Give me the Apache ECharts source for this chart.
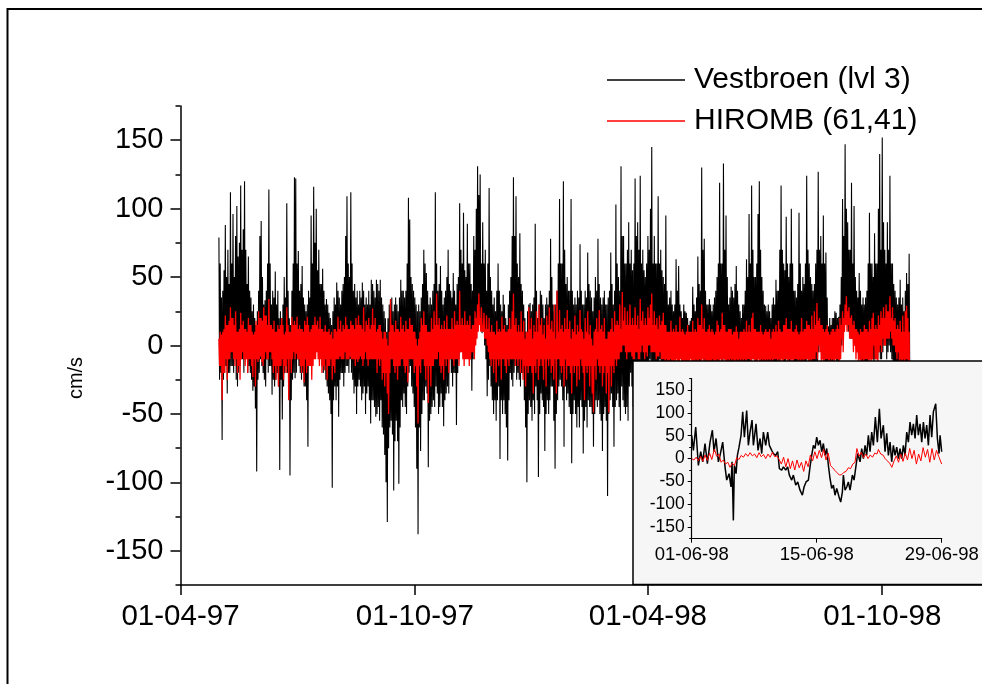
<!DOCTYPE html>
<html>
<head>
<meta charset="utf-8">
<title>Vestbroen vs HIROMB</title>
<script src="https://cdn.jsdelivr.net/npm/echarts@6/dist/echarts.min.js"></script>
<style>
  html, body { margin: 0; padding: 0; background: #fff; }
  #chart { width: 982px; height: 684px; }
</style>
</head>
<body>
<div id="chart"></div>
<script>
// daily max / min of each main series (cm/s), one row = 10 days, first day = 30 days after 01-04-97
var firstDay = 30;

var vestHigh = [
  79,60,35,40,55,88,50,70,45,112,
  60,96,50,80,102,65,75,117,70,85,
  120,70,45,65,40,35,25,30,20,15,
  25,40,80,91,50,30,33,40,60,114,
  60,30,40,35,54,30,40,20,25,20,
  30,50,35,104,40,20,15,40,60,123,
  122,60,69,40,45,58,35,30,25,30,
  40,35,95,60,116,75,100,55,70,45,
  45,56,40,30,34,30,24,20,15,25,
  35,30,46,40,35,30,40,45,50,80,
  109,60,50,112,60,40,45,35,40,30,
  40,35,46,40,30,35,30,40,30,48,
  45,40,35,48,45,40,48,35,30,25,
  20,10,20,30,33,35,25,30,35,30,
  25,35,48,40,40,35,40,60,108,92,
  50,45,40,35,30,25,30,25,35,45,
  70,60,53,40,30,35,30,40,45,112,
  60,40,45,58,40,30,35,40,50,70,
  45,40,35,53,40,30,45,50,104,70,
  60,97,55,50,89,60,60,45,40,80,
  70,100,131,110,125,60,90,60,70,40,
  60,115,50,40,30,35,25,40,60,40,
  30,25,37,30,20,15,30,40,50,80,
  123,80,109,60,50,82,45,40,30,20,
  10,25,30,31,25,30,35,89,40,20,
  30,40,37,30,20,30,35,30,40,78,
  50,30,25,30,40,60,107,60,60,120,
  70,45,50,40,40,107,40,30,35,30,
  40,35,74,40,30,30,40,35,68,45,
  40,35,25,35,50,40,78,45,35,30,
  35,40,30,30,35,40,68,45,30,40,
  103,60,50,40,131,80,80,60,60,70,
  90,60,70,55,60,122,80,90,70,124,
  60,70,55,50,60,80,70,100,145,60,
  80,60,60,109,60,70,55,50,45,95,
  40,30,35,40,30,25,30,63,40,58,
  30,25,20,30,25,24,20,15,18,20,
  43,30,25,35,65,45,40,130,70,78,
  40,30,30,34,30,25,30,35,40,50,
  60,119,60,60,133,70,95,50,30,35,
  43,40,35,45,58,40,30,25,20,30,
  30,40,63,50,96,60,117,70,50,50,
  60,96,120,70,50,40,30,29,25,30,
  25,20,30,35,30,48,40,40,70,117,
  70,60,55,94,60,50,60,100,60,40,
  40,35,45,97,60,40,50,45,60,124,
  70,60,50,45,40,45,60,70,127,70,
  80,60,95,60,68,35,14,20,15,20,
  20,25,24,20,21,30,50,107,80,147,
  100,90,70,70,119,60,102,50,40,35,
  53,40,30,35,30,35,40,60,97,60,
  60,50,82,60,60,100,140,70,152,90,
  70,60,90,70,124,60,60,45,40,35,
  30,35,48,30,35,25,40,53,45,67
];

var vestLow = [
  -25,-20,-69,-25,-20,-15,-35,-20,-20,-15,
  -15,-20,-5,-25,-30,-20,-15,-10,-10,-20,
  -10,-5,-20,-15,-20,-25,-33,-30,-46,-92,
  -25,-20,-10,-15,-20,-25,-30,-10,-20,-15,
  -15,-36,-25,-30,-25,-20,-30,-91,-25,-54,
  -30,-20,-15,-20,-15,-95,-40,-25,-20,-24,
  -20,-10,-15,-20,-25,-20,-30,-30,-40,-74,
  -10,-10,0,5,5,5,0,0,-5,-5,
  -15,-20,-15,-25,-30,-35,-40,-50,-104,-40,
  -30,-40,-30,-52,-25,-20,-20,-30,-20,-15,
  -15,-20,-10,-20,-25,-35,-30,-50,-30,-25,
  -30,-40,-35,-30,-50,-35,-30,-40,-57,-40,
  -40,-45,-52,-50,-45,-55,-40,-60,-65,-80,
  -100,-129,-75,-60,-55,-65,-106,-70,-55,-70,
  -101,-60,-40,-45,-35,-45,-50,-30,-20,-15,
  -30,-35,-45,-60,-90,-138,-60,-77,-50,-40,
  -40,-30,-35,-89,-55,-50,-45,-40,-45,-30,
  -35,-50,-45,-35,-45,-59,-40,-35,-30,-35,
  -10,-20,-30,-20,-20,-58,-20,-10,-5,0,
  0,5,0,-6,-5,0,-10,-33,-10,0,
  10,15,20,20,15,9,10,0,-10,-37,
  -25,-15,-30,-40,-50,-40,-55,-40,-30,-83,
  -40,-50,-40,-50,-60,-84,-40,-20,-25,-30,
  -20,-15,-25,-20,-25,-30,-20,-20,-40,-60,
  -100,-50,-40,-45,-55,-40,-50,-30,-40,-96,
  -50,-35,-40,-45,-77,-50,-40,-50,-40,-30,
  -30,-55,-90,-50,-40,-30,-25,-30,-40,-74,
  -30,-40,-35,-45,-50,-86,-50,-40,-50,-60,
  -45,-60,-40,-45,-79,-55,-45,-60,-40,-45,
  -45,-50,-74,-50,-40,-45,-40,-50,-55,-77,
  -50,-45,-55,-110,-50,-40,-35,-45,-74,-45,
  -40,-35,-45,-55,-30,-40,-45,-50,-45,-55,
  -30,-20,-30,-45,-30,-20,-20,-30,-25,-20,
  -30,-20,-20,-30,-30,-20,-10,-15,-20,-20,
  -25,-20,-30,-20,-10,-25,-20,-30,-20,-25,
  -20,-10,-30,-20,-20,-10,-30,-5,5,0,
  0,-5,-5,0,-10,0,0,-5,-8,-5,
  -5,-10,-20,-30,-20,-20,-15,-10,-10,-20,
  -30,-20,-40,-20,-20,-30,-50,-30,-30,-20,
  -20,-10,-10,-15,-10,-20,-20,-20,-30,-40,
  -30,-30,-20,-50,-20,-20,-30,-40,-30,-30,
  -20,-20,-15,-15,-20,-20,-10,-10,-10,-30,
  -30,-10,-10,-20,-20,-40,-30,-30,-30,-30,
  -30,-50,-20,-20,-25,-20,-30,-20,-10,-10,
  -20,-15,-20,-10,-15,-20,-30,-10,-10,-20,
  -40,-20,-20,-15,-20,-20,-20,-30,-20,-10,
  -10,-15,-20,-30,-20,-20,-15,-15,-5,0,
  -10,-10,-15,-20,-20,-20,-30,-30,-20,-20,
  -10,-10,-20,-20,-10,-5,0,10,10,20,
  15,10,10,5,5,5,0,0,-5,-10,
  -10,-20,-20,-40,-20,-30,-20,-20,-10,-10,
  -10,-20,-10,-10,-10,-5,-10,-10,-5,0,
  0,-10,-5,0,-5,-10,-15,-20,-20,-30,
  -20,-40,-30,-30,-20,-40,-20,-30,-20,-30
];

var hiromHigh = [
  5,10,8,10,12,22,15,15,18,28,
  20,20,15,25,10,10,12,24,15,18,
  12,12,10,20,15,15,10,8,10,18,
  15,25,20,20,18,28,22,22,15,34,
  15,15,12,18,10,10,15,12,15,20,
  15,8,10,28,15,10,10,21,15,18,
  15,21,12,15,12,12,10,18,15,21,
  15,10,12,15,15,21,15,18,12,21,
  12,12,10,15,10,10,12,8,10,5,
  12,12,10,21,12,18,10,15,12,21,
  15,12,12,18,15,15,12,20,15,22,
  15,15,12,28,10,18,15,20,12,15,
  27,15,20,10,12,15,15,10,5,10,
  10,5,0,10,34,15,15,10,18,12,
  12,10,21,12,15,10,18,12,12,20,
  15,15,10,10,5,0,5,10,20,15,
  25,15,15,10,10,10,20,12,25,15,
  38,15,20,12,15,12,18,12,22,12,
  12,12,20,12,25,15,18,15,40,15,
  20,15,25,15,18,15,22,12,15,15,
  25,20,30,38,20,28,15,24,12,22,
  12,20,10,15,10,10,8,18,10,12,
  10,21,12,15,10,10,12,20,12,25,
  38,15,20,10,15,10,25,10,18,5,
  10,10,28,12,20,5,15,10,25,10,
  30,15,20,8,15,5,22,15,28,12,
  18,10,30,5,40,10,26,12,15,10,
  20,12,26,12,18,5,12,10,22,8,
  15,10,26,12,10,5,20,10,25,8,
  15,5,0,10,12,20,10,26,12,15,
  10,20,5,5,10,10,12,20,10,25,
  15,18,15,30,12,39,18,28,15,25,
  15,30,15,20,15,28,15,22,12,34,
  18,25,15,20,15,28,20,30,38,15,
  25,15,20,12,22,15,18,24,15,15,
  10,10,10,18,10,12,10,15,10,10,
  21,10,12,10,8,10,15,10,10,10,
  18,10,12,10,20,15,15,30,12,20,
  10,10,12,15,10,12,10,8,10,18,
  15,10,12,24,15,15,10,10,12,12,
  12,8,10,10,14,10,5,10,10,10,
  12,10,18,10,15,10,20,24,12,12,
  10,10,10,15,10,8,10,12,10,10,
  12,5,10,12,10,15,10,18,12,10,
  10,15,15,20,12,12,12,18,10,10,
  12,15,10,8,10,20,10,12,12,18,
  15,15,12,22,12,25,15,31,18,20,
  15,15,12,10,12,15,10,8,10,12,
  12,10,12,15,12,20,15,25,20,30,
  36,25,28,20,22,15,18,12,12,10,
  8,12,10,10,15,12,12,10,18,12,
  20,24,12,15,12,22,15,25,20,28,
  20,30,25,25,36,20,28,18,20,12,
  15,12,18,10,22,10,25,29,20,10
];

var hiromLow = [
  -15,-15,-40,-20,-20,-10,-25,-10,-10,-5,
  -5,-10,-15,-10,-20,-15,-25,-10,-5,-10,
  -15,-10,-20,-10,-10,-15,-23,-10,-30,-10,
  -12,-10,-8,-12,-15,-10,-5,-10,-10,-5,
  -5,-10,-20,-15,-25,-15,-30,-15,-15,-10,
  -25,-15,-20,-10,-40,-10,-20,-10,-5,-10,
  -6,-10,-10,-15,-20,-15,-27,-10,-20,-15,
  -15,-15,-25,-15,-10,-10,-5,-10,-15,-10,
  -20,-15,-18,-10,-25,-15,-15,-10,-25,-15,
  -20,-10,-10,-10,-8,-10,-10,-10,-5,-10,
  -10,-10,-8,-10,-10,-10,-15,-10,-12,-10,
  -8,-10,-15,-10,-5,-10,-15,-10,-10,-10,
  -10,-10,-10,-20,-10,-15,-10,-25,-20,-30,
  -20,-35,-50,-20,-10,-10,-15,-20,-15,-25,
  -15,-15,-10,-10,-15,-20,-15,-27,-10,-10,
  -10,-10,-20,-15,-30,-57,-15,-20,-10,-10,
  -15,-25,-15,-42,-15,-30,-15,-15,-10,-10,
  -10,-5,-15,-20,-15,-25,-10,-15,-10,-20,
  -10,-10,-10,-15,-10,-10,-10,-15,-5,-5,
  -10,-15,-10,-10,-10,-15,-10,-5,-5,-10,
  0,5,10,15,10,10,10,5,5,0,
  -5,-10,-15,-10,-20,-10,-27,-10,-15,-10,
  -25,-10,-10,-15,-20,-10,-15,-10,-10,-10,
  -10,-15,-10,-15,-10,-20,-10,-25,-15,-30,
  -15,-20,-15,-15,-20,-35,-15,-20,-10,-25,
  -15,-10,-15,-25,-10,-30,-10,-15,-10,-20,
  -15,-25,-10,-35,-10,-10,-15,-20,-15,-30,
  -10,-25,-15,-15,-20,-35,-15,-20,-15,-30,
  -15,-25,-10,-15,-20,-40,-15,-20,-15,-30,
  -15,-35,-49,-15,-25,-10,-15,-20,-15,-30,
  -20,-15,-35,-20,-49,-15,-30,-15,-20,-10,
  -15,-10,-10,-5,-5,0,0,-5,-10,-5,
  -5,-5,-8,-10,-10,-5,-5,-10,-10,-5,
  0,-5,-10,-5,-8,0,0,-5,-5,-5,
  -5,-10,-8,-8,-5,-10,-10,-10,-15,-10,
  -20,-15,-10,-15,-25,-15,-20,-10,-30,-15,
  -10,-20,-15,-25,-15,-30,-15,-15,-10,-25,
  -15,-20,-10,-30,-15,-10,-15,-10,-15,-10,
  -25,-15,-20,-15,-30,-10,-15,-15,-25,-10,
  -15,-10,-20,-10,-10,-15,-25,-10,-20,-10,
  -15,-10,-30,-15,-10,-20,-10,-25,-10,-15,
  -10,-20,-10,-10,-10,-25,-10,-10,-15,-10,
  -20,-10,-30,-10,-15,-10,-25,-10,-20,-10,
  -15,-10,-25,-10,-10,-10,-20,-10,-15,-10,
  -25,-10,-10,-10,-20,-10,-15,-10,-25,-10,
  -10,-10,-20,-10,-15,-10,-25,-10,-10,-10,
  -20,-10,-15,-10,-10,-10,-5,-10,0,-5,
  -15,-10,-20,-10,-10,-10,-25,-10,-15,-10,
  -20,-10,-10,-10,-15,-10,5,-5,10,15,
  10,15,5,5,5,-5,0,-10,-5,-20,
  -10,-15,-10,-25,-10,-10,-10,-20,-10,-15,
  -10,0,-10,-10,-15,-5,0,-5,5,0,
  0,5,5,5,10,5,0,0,-5,-10,
  -5,-20,-10,-30,-10,-40,-10,-10,-50,-60
];

// inset series: [hours since 01-06-98, cm/s]
var insetVest = [
  [0,51],[4.5,18],[10.8,69],[17.9,-15],[24.2,15],[29.6,-7],[35.8,33],[42.1,-11],[49.3,36],[55.6,62],[60,15],[65.4,44],[71.7,-7],[76.2,7],[83.3,36],[89.6,-18],[94.1,-47],[100.4,-33],[105.7,-62],[108.4,-7],[112,-135],[114.7,-15],[119.2,-33],[122.8,7],[127.2,25],[132.6,51],[137.1,102],[141.6,47],[147.8,105],[152.3,29],[156.8,58],[162.2,84],[165.8,29],[172.9,76],[178.3,18],[183.7,44],[188.2,11],[192.7,58],[198.9,29],[204.3,58],[208.8,29],[215.1,18],[219.5,11],[225.8,7],[231.2,15],[235.7,-22],[241.9,-25],[246.4,-18],[252.7,-25],[258.1,-18],[262.5,-36],[268.8,-47],[273.3,-36],[279.6,-58],[285,-51],[291.2,-69],[297.5,-80],[302,-62],[307.3,-51],[313.6,-47],[318.1,-18],[322.6,7],[327.1,29],[331.5,22],[336,47],[340.5,29],[345,40],[349.5,15],[353.9,33],[358.4,7],[362.9,22],[367.4,-15],[371.9,-44],[376.3,-65],[380.8,-58],[385.3,-80],[389.8,-65],[396.1,-84],[400.5,-95],[405,-73],[407.7,-36],[412.2,-69],[416.7,-62],[421.1,-51],[425.6,-69],[431.9,-36],[436.4,-47],[441.8,-15],[446.2,11],[452.5,-7],[457,22],[461.5,0],[466,29],[470.4,7],[474.9,51],[479.4,15],[483.9,58],[488.4,29],[493.7,91],[499.1,36],[504.5,109],[509,44],[515.2,73],[519.7,15],[524.2,55],[528.7,7],[533.2,36],[537.6,-7],[542.1,29],[546.6,7],[551.1,25],[555.6,0],[560,22],[564.5,0],[569,29],[573.5,7],[578,58],[582.4,36],[586.9,80],[591.4,51],[595.9,76],[600.4,44],[604.8,95],[609.3,51],[613.8,76],[618.3,36],[622.8,80],[627.2,44],[631.7,73],[636.2,29],[640.7,95],[645.2,47],[649.6,102],[655.9,120],[660.4,44],[664.9,11],[667.6,51],[672,15]
];

var insetHir = [
  [0,0],[6,-3],[12,3],[18,-5],[24,5],[30,-6],[36,8],[42,-4],[48,12],[54,-2],[61,21],[67,5],[73,10],[79,-8],[85,-3],[91,-12],[97,-8],[103,-19],[109,-10],[115,-15],[121,2],[127,-2],[133,7],[139,3],[145,11],[151,5],[157,13],[163,6],[169,10],[175,2],[181,13],[187,4],[193,9],[199,0],[205,10],[211,3],[217,14],[223,4],[229,6],[235,-2],[241,-12],[247,3],[253,-18],[259,0],[265,-22],[271,-5],[277,-25],[283,-3],[289,-20],[295,-8],[301,-28],[307,-5],[313,-18],[319,8],[325,-5],[331,15],[337,0],[343,18],[349,2],[355,20],[361,-3],[367,12],[373,-15],[379,-20],[385,-26],[391,-31],[397,-36],[403,-35],[409,-30],[415,-28],[421,-20],[427,-22],[433,-12],[439,-8],[444,22],[450,5],[456,14],[462,2],[468,10],[474,0],[480,8],[486,3],[492,12],[498,10],[502,20],[508,10],[514,8],[520,0],[526,-5],[532,-10],[538,-19],[544,-5],[550,6],[556,-8],[562,10],[568,-6],[574,12],[580,-3],[586,22],[592,0],[598,18],[604,-12],[610,10],[616,-5],[622,24],[628,3],[634,20],[640,-8],[646,22],[652,-3],[658,18],[664,5],[668,8],[672,-12]
];

var mainTicks = ['1997-04-01', '1997-10-01', '1998-04-01', '1998-10-01'];
var insetTicks = ['1998-06-01', '1998-06-15', '1998-06-29'];
var yTicks = [-150, -100, -50, 0, 50, 100, 150];
var yMinor = [-175, -125, -75, -25, 25, 75, 125, 175];

var FONT = '"Liberation Sans", Arial, sans-serif';
var DAY = 86400000;
var mainStart = Date.UTC(1997, 3, 1);
var insetStart = Date.UTC(1998, 5, 1);

function ts(s) { return new Date(s + 'T00:00:00Z').getTime(); }
function pad(n) { return (n < 10 ? '0' : '') + n; }
function fmt(v) {
    var d = new Date(v);
    return pad(d.getUTCDate()) + '-' + pad(d.getUTCMonth() + 1) + '-' + String(d.getUTCFullYear()).slice(2);
}
// daily max then daily min, half a day apart
function hiLo(hi, lo) {
    var out = [];
    for (var i = 0; i < hi.length; i++) {
        out.push([mainStart + (firstDay + i) * DAY, hi[i]]);
        out.push([mainStart + (firstDay + i + 0.5) * DAY, lo[i]]);
    }
    return out;
}
function byHour(arr) {
    return arr.map(function (p) { return [insetStart + p[0] * 3600000, p[1]]; });
}

var mainTickTs = mainTicks.map(ts);
var insetTickTs = insetTicks.map(ts);
var black = { color: '#000', width: 1.5 };

var chart = echarts.init(document.getElementById('chart'));
chart.setOption({
    animation: false,
    backgroundColor: '#fff',
    textStyle: { fontFamily: FONT },
    legend: {
        data: ['Vestbroen (lvl 3)', 'HIROMB (61,41)'],
        orient: 'vertical',
        left: 607,
        top: 65,
        padding: 0,
        itemWidth: 78,
        itemHeight: 1.5,
        itemGap: 11,
        icon: 'rect',
        selectedMode: false,
        textStyle: { fontSize: 30, color: '#000', fontFamily: FONT, padding: [0, 0, 0, 4] }
    },
    graphic: [
        { type: 'rect', silent: true, z: 0, shape: { x: 7.5, y: 9, width: 1000, height: 700 },
          style: { fill: 'none', stroke: '#000', lineWidth: 2 } },
        { type: 'rect', silent: true, z: 10, shape: { x: 633, y: 361, width: 400, height: 223.5 },
          style: { fill: '#f6f6f6', stroke: '#000', lineWidth: 1.5 } },
        { type: 'text', silent: true, x: 76, y: 378, rotation: Math.PI / 2,
          style: { text: 'cm/s', fontSize: 20, fontFamily: FONT, fill: '#000',
                   align: 'center', verticalAlign: 'middle' } }
    ],
    grid: [
        { left: 180.5, top: 106, right: 0, height: 479 },
        { left: 691.7, top: 378.5, width: 250, height: 160.2 }
    ],
    xAxis: [
        {
            type: 'value', gridIndex: 0, min: mainStart, max: mainStart + 625.9 * DAY,
            axisLine: { onZero: false, lineStyle: black },
            axisTick: { customValues: mainTickTs, length: 10, lineStyle: black },
            axisLabel: { customValues: mainTickTs, formatter: fmt, fontSize: 29.5, color: '#000', margin: 17, fontFamily: FONT },
            splitLine: { show: false }
        },
        {
            type: 'value', gridIndex: 1, z: 12, min: insetTickTs[0], max: insetTickTs[2],
            axisLine: { onZero: false, lineStyle: { color: '#000', width: 1.2 } },
            axisTick: { customValues: insetTickTs, length: 4, lineStyle: { color: '#000', width: 1 } },
            axisLabel: { customValues: insetTickTs, formatter: fmt, fontSize: 18.5, color: '#000', margin: 7, fontFamily: FONT },
            splitLine: { show: false }
        }
    ],
    yAxis: [
        {
            type: 'value', gridIndex: 0, position: 'left', min: -175, max: 175, interval: 25,
            axisLine: { show: true, onZero: false, lineStyle: black },
            axisTick: { length: 5, lineStyle: black },
            axisLabel: { customValues: yTicks, fontSize: 29, color: '#000', margin: 17, fontFamily: FONT },
            splitLine: { show: false }
        },
        {
            type: 'value', gridIndex: 0, position: 'left', min: -175, max: 175,
            axisLine: { show: false, onZero: false },
            axisTick: { customValues: yTicks, length: 10, lineStyle: black },
            axisLabel: { show: false },
            splitLine: { show: false }
        },
        {
            type: 'value', gridIndex: 1, position: 'left', z: 12, min: -175, max: 175,
            axisLine: { show: true, onZero: false, lineStyle: { color: '#000', width: 1.2 } },
            axisTick: { customValues: yMinor, length: 2.5, lineStyle: { color: '#000', width: 1 } },
            axisLabel: { customValues: yTicks, fontSize: 17.5, color: '#000', margin: 7, fontFamily: FONT },
            splitLine: { show: false }
        },
        {
            type: 'value', gridIndex: 1, position: 'left', z: 12, min: -175, max: 175,
            axisLine: { show: false, onZero: false },
            axisTick: { customValues: yTicks, length: 4, lineStyle: { color: '#000', width: 1 } },
            axisLabel: { show: false },
            splitLine: { show: false }
        }
    ],
    series: [
        { name: 'Vestbroen (lvl 3)', type: 'line', xAxisIndex: 0, yAxisIndex: 0, z: 2,
          symbol: 'none', data: hiLo(vestHigh, vestLow), lineStyle: { color: '#000', width: 1.1 }, itemStyle: { color: '#000' } },
        { name: 'HIROMB (61,41)', type: 'line', xAxisIndex: 0, yAxisIndex: 0, z: 3,
          symbol: 'none', data: hiLo(hiromHigh, hiromLow), lineStyle: { color: '#ff0000', width: 1.3 }, itemStyle: { color: '#ff0000' } },
        { name: 'inset-vest', type: 'line', xAxisIndex: 1, yAxisIndex: 2, z: 13,
          symbol: 'none', data: byHour(insetVest), lineStyle: { color: '#000', width: 1.5 }, itemStyle: { color: '#000' } },
        { name: 'inset-hir', type: 'line', xAxisIndex: 1, yAxisIndex: 2, z: 14,
          symbol: 'none', data: byHour(insetHir), lineStyle: { color: '#ff0000', width: 1 }, itemStyle: { color: '#ff0000' } }
    ]
});
</script>
</body>
</html>
